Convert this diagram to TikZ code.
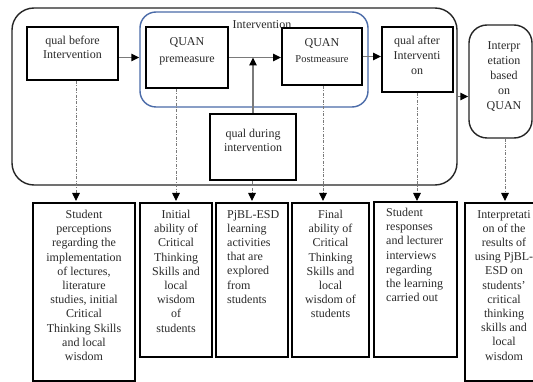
\documentclass[tikz,border=0pt]{standalone}
\usepackage{fontspec}
\setmainfont{Liberation Serif}
\usetikzlibrary{arrows.meta}
\definecolor{txtc}{HTML}{2A2A2A}
\definecolor{bluec}{HTML}{4A6BA8}
\definecolor{linec}{HTML}{7A7A7A}
\begin{document}
\begin{tikzpicture}[x=1pt,y=-1pt,
  tbox/.style={draw=black, line width=2pt, inner sep=0pt},
  bbox/.style={draw=black, line width=1.4pt, inner sep=0pt},
  outerbox/.style={draw=black!85, line width=1.4pt, inner sep=0pt, rounded corners=22pt},
  bluebox/.style={draw=bluec, line width=1.4pt, inner sep=0pt, rounded corners=16pt},
  arr/.style={draw=linec, line width=1.4pt, -{Triangle[length=8pt,width=7.5pt,color=black]}},
  dda/.style={draw=linec, line width=0.9pt, dash pattern=on 3pt off 1.5pt on 0.8pt off 1.5pt, -{Triangle[length=8pt,width=7.5pt,color=black]}},
  txt/.style={text=txtc, font=\fontsize{12}{14.2}\selectfont, inner sep=0pt, align=center},
  txtl/.style={text=txtc, font=\fontsize{12}{14.2}\selectfont, inner sep=0pt, align=left}]
\clip (0,0) rectangle (533,382);
\fill[white] (0,0) rectangle (533,382);
% containers
\node[outerbox, minimum width=445pt, minimum height=177pt] (outer) at (234.5,96.5) {};
\node[bluebox, minimum width=228pt, minimum height=95pt] (blue) at (254,59.5) {};
\node[txt] (intlab) at (262,25) {Intervention};
% top boxes
\node[tbox, minimum width=91pt, minimum height=53pt] (qb) at (72.5,53.5) {};
\node[txt] (qbt) at (72.5,47) {qual before\\Intervention};
\node[tbox, minimum width=82pt, minimum height=61pt] (pre) at (187,57.5) {};
\node[txt, font=\fontsize{12}{17}\selectfont] (pret) at (187,51.5) {QUAN\\premeasure};
\node[tbox, minimum width=80pt, minimum height=57pt] (post) at (322,56.5) {};
\node[txt, font=\fontsize{12}{16}\selectfont] (postt) at (322,51) {QUAN\\{\fontsize{10.5}{12}\selectfont Postmeasure}};
\node[tbox, minimum width=86pt, minimum height=66pt] (during) at (253,147) {};
\node[txt] (duringt) at (253,140.5) {qual during\\intervention};
\node[tbox, minimum width=71pt, minimum height=65pt] (after) at (417.5,59.5) {};
\node[txt, font=\fontsize{12}{15}\selectfont] (aftert) at (417,55) {qual after\\Interventi\\on};
\node[outerbox, rounded corners=18pt, minimum width=63pt, minimum height=113pt] (interp) at (500.5,81.5) {};
\node[txt, font=\fontsize{12}{15}\selectfont] (interpt) at (504,77) {Interpr\\etation\\based\\on\\QUAN};
% bottom boxes
\node[bbox, minimum width=102pt, minimum height=178pt] (b1) at (84,292) {};
\node[bbox, minimum width=72pt, minimum height=154pt] (b2) at (176,280) {};
\node[bbox, minimum width=72pt, minimum height=154pt] (b3) at (252,280) {};
\node[bbox, minimum width=77pt, minimum height=154pt] (b4) at (330.5,280) {};
\node[bbox, minimum width=83pt, minimum height=155pt] (b5) at (415.5,279.5) {};
\node[bbox, minimum width=84pt, minimum height=178pt] (b6) at (507,292) {};
\node[txt, anchor=north] (b1t) at (84,210) {Student\\perceptions\\regarding the\\implementation\\of lectures,\\literature\\studies, initial\\Critical\\Thinking Skills\\and local\\wisdom};
\node[txt, anchor=north] (b2t) at (176,210) {Initial\\ability of\\Critical\\Thinking\\Skills and\\local\\wisdom\\of\\students};
\node[txtl, anchor=north west] (b3t) at (227,210) {PjBL-ESD\\learning\\activities\\that are\\explored\\from\\students};
\node[txt, anchor=north] (b4t) at (330.5,210) {Final\\ability of\\Critical\\Thinking\\Skills and\\local\\wisdom of\\students};
\node[txtl, anchor=north west] (b5t) at (386,208) {Student\\responses\\and lecturer\\interviews\\regarding\\the learning\\carried out};
\node[txt, anchor=north] (b6t) at (504,210) {Interpretati\\on of the\\results of\\using PjBL-\\ESD on\\students'\\critical\\thinking\\skills and\\local\\wisdom};
% solid connectors
\draw[arr] (qb.east |- pre.west) -- (blue.west |- pre.west);
\draw[arr] (pre.east) -- (post.west |- pre.east);
\draw[arr] (during.north) -- (during.north |- pre.east);
\draw[arr] (post.east) -- (after.west |- post.east);
\draw[arr] (outer.east) -- (interp.west |- outer.east);
% dotted connectors
\coordinate (t1) at (76,201);
\coordinate (t2) at (176,201);
\coordinate (t3) at (252,201);
\coordinate (t4) at (323,201);
\coordinate (t5) at (417,201);
\coordinate (t6) at (505,201);
\draw[dda] (qb.south -| t1) -- (t1);
\draw[dda] (pre.south -| t2) -- (t2);
\draw[dda] (during.south -| t3) -- (t3);
\draw[dda] (post.south -| t4) -- (t4);
\draw[dda] (after.south -| t5) -- (t5);
\draw[dda] (interp.south -| t6) -- (t6);
\end{tikzpicture}
\end{document}
